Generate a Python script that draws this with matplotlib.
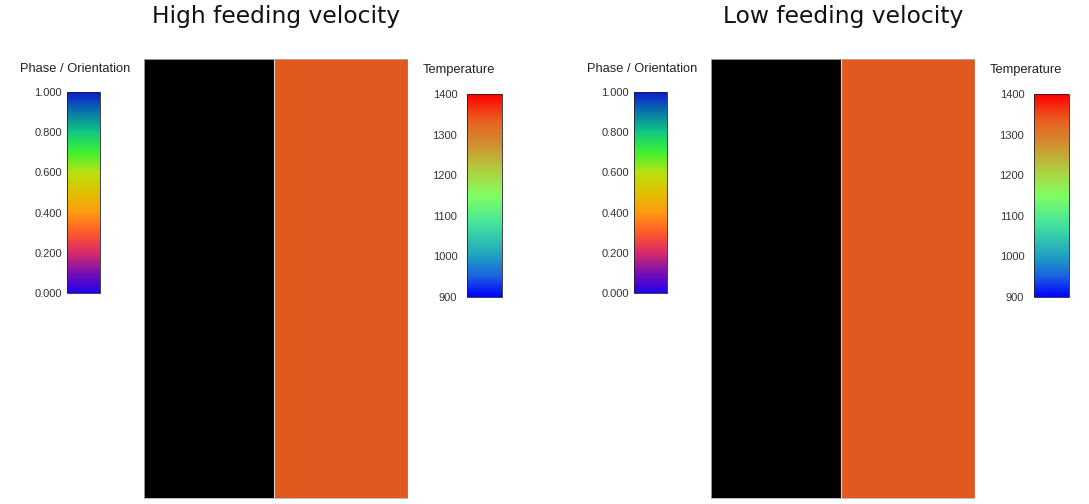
import numpy as np
import matplotlib
matplotlib.use("Agg")
import matplotlib.pyplot as plt
from matplotlib.colors import LinearSegmentedColormap, ListedColormap, Normalize
from matplotlib.cm import ScalarMappable

W, H = 1089, 504

# panel titles
panel_titles = ["High feeding velocity", "Low feeding velocity"]

# domain: two regions across the width (solid | melt), edges as fraction of width
region_edges = [0.0, 0.495, 1.0]
region_values = [0, 1]
region_colors = ["#000000", "#e05a1f"]

# colour bar scales
phase_ticks = [0.0, 0.2, 0.4, 0.6, 0.8, 1.0]
temp_ticks = [900, 1000, 1100, 1200, 1300, 1400]

phase_cmap = LinearSegmentedColormap.from_list("phase", [
    (0.00, "#2200ee"), (0.10, "#7a10b0"), (0.20, "#d82a6a"), (0.30, "#ff5a2a"),
    (0.40, "#ff9a10"), (0.50, "#e0c000"), (0.60, "#b8e010"), (0.70, "#40f030"),
    (0.80, "#10c880"), (0.90, "#0a78a8"), (1.00, "#0a1ad0")])
temp_cmap = LinearSegmentedColormap.from_list("temp", [
    (0.00, "#0000ff"), (0.10, "#1a60e0"), (0.20, "#20a0c0"), (0.35, "#40e0a0"),
    (0.50, "#80ff60"), (0.62, "#b0d040"), (0.75, "#d09030"), (0.87, "#e86020"),
    (1.00, "#ff0000")])


def ax_px(fig, x0, y0, x1, y1):
    return fig.add_axes([x0 / W, 1 - y1 / H, (x1 - x0) / W, (y1 - y0) / H])


def colorbar_px(fig, box, cmap, ticks, fmt, pad, title, title_xy):
    cax = ax_px(fig, *box)
    sm = ScalarMappable(norm=Normalize(ticks[0], ticks[-1]), cmap=cmap)
    cb = fig.colorbar(sm, cax=cax)
    cb.set_ticks(ticks)
    cb.ax.set_yticklabels([fmt % t for t in ticks], family="Liberation Sans")
    cb.ax.yaxis.set_ticks_position("left")
    cb.ax.tick_params(length=0, pad=pad, labelsize=8, labelcolor="#333333")
    cb.outline.set_linewidth(0.6)
    cb.outline.set_edgecolor("#222222")
    fig.text(title_xy[0] / W, 1 - title_xy[1] / H, title, ha="center", va="center",
             fontsize=9.3, family="Liberation Sans", color="#222222")


fig = plt.figure(figsize=(W / 100, H / 100), dpi=100)

offsets = [0, 567]
for title, dx in zip(panel_titles, offsets):
    # domain
    ax = ax_px(fig, 144 + dx, 59, 407 + dx, 498)
    ax.pcolormesh(region_edges, [0, 1], np.array([region_values]),
                  cmap=ListedColormap(region_colors), vmin=0, vmax=1)
    ax.axvline(region_edges[1], color="#d8d8c8", lw=0.8)
    ax.set_xlim(0, 1)
    ax.set_ylim(0, 1)
    ax.set_xticks([])
    ax.set_yticks([])
    for s in ax.spines.values():
        s.set_edgecolor("#b0b0b0")
        s.set_linewidth(0.6)
    ax.spines["right"].set_edgecolor("#c85020")

    fig.text((276 + dx) / W, 1 - 16 / H, title, ha="center", va="center",
             fontsize=16.8, family="DejaVu Sans", color="#111111")

    colorbar_px(fig, (67 + dx, 92, 100 + dx, 293), phase_cmap, phase_ticks, "%.3f", 3.5,
                "Phase / Orientation", (75 + dx, 69))
    colorbar_px(fig, (467 + dx, 94, 502 + dx, 297), temp_cmap, temp_ticks, "%d", 7,
                "Temperature", (459 + dx, 70))

fig.savefig("out.png", dpi=100)
